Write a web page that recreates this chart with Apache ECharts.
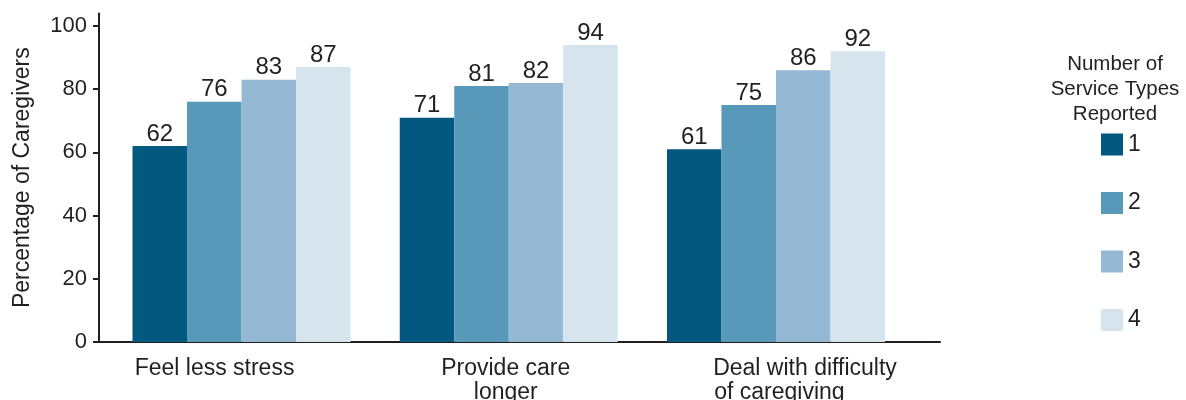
<!DOCTYPE html>
<html>
<head>
<meta charset="utf-8">
<script src="https://cdn.jsdelivr.net/npm/echarts@6/dist/echarts.min.js"></script>
<style>
html,body{margin:0;padding:0;background:#fff;}
#chart{width:1186px;height:400px;}
</style>
</head>
<body>
<div id="chart"></div>
<script>
const categories = ['Feel less stress', 'Provide care\nlonger', 'Deal with difficulty\nof caregiving        '];
const seriesNames = ['1', '2', '3', '4'];
const values1 = [62, 71, 61];
const values2 = [76, 81, 75];
const values3 = [83, 82, 86];
const values4 = [87, 94, 92];
const yTicks = [0, 20, 40, 60, 80, 100];
const yTitle = 'Percentage of Caregivers';
const legendTitle = 'Number of\nService Types\nReported';

const colors = ['#02587f', '#5898b8', '#95b9d4', '#d6e4ee'];
const textColor = '#231f20';
const font = 'Liberation Sans, Arial, Helvetica, sans-serif';
const allValues = [values1, values2, values3, values4];

const catPads = [[0, 54, 0, 0], [0, 6, 0, 0], [0, 0, 0, 58]];

const chart = echarts.init(document.getElementById('chart'), null, {renderer: 'canvas'});
chart.setOption({
  animation: false,
  backgroundColor: '#ffffff',
  textStyle: {fontFamily: font, color: textColor},
  title: {
    text: legendTitle,
    left: 1110,
    top: 47,
    textAlign: 'center',
    textStyle: {fontFamily: font, fontSize: 20.5, fontWeight: 'normal', color: textColor, lineHeight: 25}
  },
  legend: {
    orient: 'vertical',
    left: 1096,
    top: 128,
    itemWidth: 22,
    itemHeight: 22,
    itemGap: 35.5,
    icon: 'rect',
    data: seriesNames,
    textStyle: {fontFamily: font, fontSize: 23, color: textColor}
  },
  grid: [
    {left: 107.9, right: 276.4, top: 13.4, bottom: 58, containLabel: false, outerBoundsMode: 'none'},
    {left: 99, right: 246, top: 13.4, bottom: 58, containLabel: false, outerBoundsMode: 'none'}
  ],
  xAxis: [
    {
      type: 'category',
      gridIndex: 0,
      data: categories.map((c, i) => ({value: c, textStyle: {padding: catPads[i]}})),
      axisLine: {show: false},
      axisTick: {show: false},
      axisLabel: {fontFamily: font, fontSize: 23, color: textColor, margin: 15, lineHeight: 24, interval: 0}
    },
    {
      type: 'value',
      gridIndex: 1,
      min: 0, max: 1,
      axisLine: {show: true, lineStyle: {color: textColor, width: 2}},
      axisTick: {show: false},
      axisLabel: {show: false},
      splitLine: {show: false}
    }
  ],
  yAxis: [
    {
      type: 'value',
      gridIndex: 0,
      min: 0, max: 104,
      show: false,
      splitLine: {show: false}
    },
    {
      type: 'value',
      gridIndex: 1,
      min: 0, max: 104,
      name: yTitle,
      nameLocation: 'middle',
      nameGap: 65,
      nameTextStyle: {fontFamily: font, fontSize: 23, color: textColor},
      axisLine: {show: true, lineStyle: {color: textColor, width: 2}},
      axisTick: {show: true, length: 6, lineStyle: {color: textColor, width: 2}, customValues: yTicks},
      axisLabel: {fontFamily: font, fontSize: 22, color: textColor, margin: 12, customValues: yTicks},
      splitLine: {show: false}
    }
  ],
  series: seriesNames.map((name, i) => ({
    name: name,
    type: 'bar',
    xAxisIndex: 0,
    yAxisIndex: 0,
    data: allValues[i],
    barWidth: 54.5,
    barGap: '0%',
    itemStyle: {color: colors[i]},
    label: {show: true, position: 'top', distance: 0, fontFamily: font, fontSize: 24, color: textColor}
  }))
});
</script>
</body>
</html>
